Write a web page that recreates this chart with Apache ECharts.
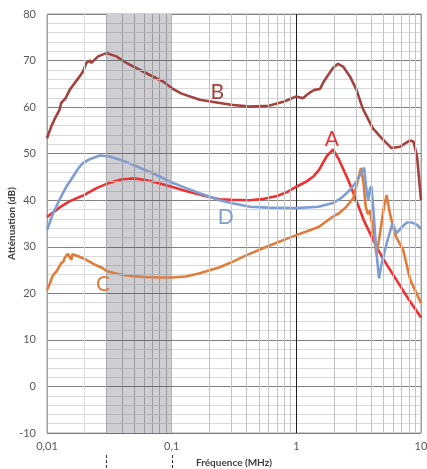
<!DOCTYPE html>
<html>
<head>
<meta charset="utf-8">
<script src="https://cdn.jsdelivr.net/npm/echarts@6/dist/echarts.min.js"></script>
<style>
html,body{margin:0;padding:0;background:#fff;}
#c{width:427px;height:469px;}
</style>
</head>
<body>
<div id="c"></div>
<script>
// ---- data (frequency MHz, attenuation dB) ----
const curveA = [[0.01,36.4],[0.0115,37.6],[0.013,38.7],[0.015,39.7],[0.0175,40.5],[0.0195,41.0],[0.022,41.8],[0.025,42.6],[0.03,43.5],[0.035,44.1],[0.04,44.5],[0.045,44.6],[0.05,44.7],[0.06,44.4],[0.07,44.0],[0.08,43.6],[0.1,42.9],[0.13,42.0],[0.17,41.2],[0.2,40.7],[0.243,40.2],[0.3,40.1],[0.42,40.0],[0.55,40.3],[0.7,40.9],[0.85,41.8],[1.0,42.9],[1.2,44.0],[1.37,45.1],[1.52,46.5],[1.75,49.4],[1.97,50.9],[2.2,48.7],[2.6,44.4],[3.0,40.2],[3.5,35.5],[4.0,32.3],[4.4,30.0],[5.0,27.3],[6.35,22.9],[8.0,18.6],[10,14.8]];
const curveB = [[0.01,53.3],[0.0108,55.8],[0.0115,57.4],[0.0126,59.4],[0.013,60.9],[0.0141,61.9],[0.0152,63.7],[0.0167,65.2],[0.0183,66.6],[0.0195,67.7],[0.0207,69.5],[0.022,70.0],[0.0227,69.5],[0.0257,70.9],[0.03,71.6],[0.036,70.9],[0.0433,69.5],[0.052,68.4],[0.0668,66.9],[0.0852,65.5],[0.1,64.1],[0.12,62.9],[0.168,61.6],[0.243,60.9],[0.3,60.5],[0.424,60.1],[0.6,60.3],[0.8,61.2],[1.0,62.3],[1.13,61.9],[1.21,62.6],[1.28,63.1],[1.4,63.7],[1.55,63.9],[1.66,65.5],[1.8,66.9],[1.97,68.4],[2.16,69.3],[2.37,68.7],[2.69,66.6],[3.04,63.7],[3.3,60.8],[3.45,59.4],[4.1,55.5],[4.85,53.3],[5.8,51.2],[6.8,51.5],[8.1,52.8],[8.7,52.6],[9.3,49.4],[10,40.0]];
const curveC = [[0.01,20.7],[0.0105,22.0],[0.011,23.5],[0.0115,24.3],[0.012,24.8],[0.013,26.5],[0.0135,26.8],[0.014,27.8],[0.0147,28.5],[0.0152,27.8],[0.0157,27.2],[0.016,28.4],[0.0165,28.2],[0.018,27.9],[0.0207,27.2],[0.024,26.2],[0.0281,25.4],[0.03,24.8],[0.035,24.3],[0.04,24.0],[0.049,23.7],[0.06,23.5],[0.08,23.4],[0.1,23.4],[0.13,23.6],[0.168,24.3],[0.243,25.6],[0.31,26.8],[0.4,28.2],[0.576,30.0],[0.8,31.5],[1.0,32.5],[1.3,33.6],[1.52,34.3],[1.97,36.5],[2.2,37.2],[2.5,38.5],[2.86,40.4],[3.1,44.0],[3.3,46.9],[3.45,44.0],[3.6,38.6],[3.75,37.0],[3.9,37.8],[4.1,34.0],[4.4,28.3],[4.7,33.0],[5.0,38.0],[5.3,41.1],[5.6,37.5],[5.95,34.3],[6.3,32.2],[6.5,32.6],[7.2,29.3],[8.2,22.9],[10,17.9]];
const curveD = [[0.01,33.6],[0.0112,37.2],[0.0126,40.1],[0.0143,42.9],[0.0162,45.1],[0.018,47.0],[0.0195,48.0],[0.022,48.8],[0.0265,49.6],[0.0318,49.4],[0.0407,48.5],[0.049,47.6],[0.0627,46.4],[0.08,45.1],[0.1,43.8],[0.131,42.6],[0.168,41.5],[0.243,40.0],[0.3,39.4],[0.424,38.6],[0.6,38.4],[1.0,38.3],[1.5,38.6],[1.97,39.4],[2.3,40.5],[2.69,42.2],[3.0,43.8],[3.3,45.8],[3.5,47.0],[3.62,43.0],[3.77,40.0],[3.9,42.5],[4.0,43.0],[4.15,38.0],[4.35,30.0],[4.6,23.2],[4.8,26.0],[5.3,30.7],[5.9,35.1],[6.35,32.9],[7.0,34.2],[7.7,35.2],[8.5,35.2],[9.3,34.7],[10,33.8]];
const seriesNames = ['A','B','C','D'];
const seriesColors = ['#EE3030','#A3423F','#E07D3A','#7E9ED2'];
const labelPos = [[1.93,53.2],[0.232,63.3],[0.0281,22.0],[0.272,36.4]];
const shadeRange = [0.03, 0.1];
const xTickLabels = {0.01:'0,01', 0.1:'0,1', 1:'1', 10:'10'};
const minorFreqs = [];
[0.01,0.1,1].forEach(d => { for (let k=2;k<=9;k++) minorFreqs.push(+(k*d).toPrecision(3)); });
const minorDb = [];
for (let v=-10; v<80; v+=2) if (v % 10 !== 0) minorDb.push(v);

const chart = echarts.init(document.getElementById('c'), null, {renderer:'canvas'});
const font = 'Lato, "Liberation Sans", sans-serif';
const curves = [curveA, curveB, curveC, curveD];
const inShade = f => f > shadeRange[0] && f < shadeRange[1];

const series = [];
// shaded band
series.push({
  type:'line', data:[], z:1, silent:true,
  markArea:{silent:true, itemStyle:{color:'#cfcfd3', opacity:1},
    data:[[{xAxis:shadeRange[0]},{xAxis:shadeRange[1]}]]}
});
// minor grid lines drawn over the band
series.push({
  type:'line', data:[], z:1, silent:true,
  markLine:{silent:true, symbol:['none','none'], label:{show:false}, animation:false,
    data: minorFreqs.map(f => ({xAxis:f, lineStyle:{color: f===0.02 ? '#dcdcdc' : (inShade(f) ? '#9c9c9f' : '#c4c4c4'), width:1, type:'solid'}}))}
});
series.push({
  type:'line', data:[], z:1, silent:true,
  markLine:{silent:true, symbol:['none','none'], label:{show:false}, animation:false,
    data: minorDb.map(v => [{coord:[shadeRange[0], v], lineStyle:{color:'#b4b4b8', width:1, type:'solid'}}, {coord:[shadeRange[1], v]}])
      .concat([-10,0,10,20,30,40,50,60,70].map(v => [{coord:[shadeRange[0], v], lineStyle:{color:'#707070', width:1, type:'solid'}}, {coord:[shadeRange[1], v]}]))
      .concat([{xAxis:shadeRange[0], lineStyle:{color:'#a8a8ab', width:1, type:'solid'}}])}
});
curves.forEach((c,i) => {
  series.push({
    name: seriesNames[i], type:'line', data:c, z:3,
    showSymbol:false, symbol:'none', smooth:false,
    lineStyle:{color:seriesColors[i], width:2.6},
    itemStyle:{color:seriesColors[i]},
    markPoint:{symbol:'circle', symbolSize:1, itemStyle:{color:'rgba(0,0,0,0)'},
      label:{show:true, position:'inside', formatter:seriesNames[i], color:seriesColors[i], fontSize:21, fontFamily:font},
      data:[{coord:labelPos[i]}]}
  });
});

chart.setOption({
  animation:false,
  backgroundColor:'#fff',
  grid:{left:47, right:6, top:14, bottom:36, show:true, borderColor:'#a0a0a0', borderWidth:1, containLabel:false, outerBoundsMode:'none'},
  xAxis:{
    type:'log', logBase:10, min:0.01, max:10,
    axisLine:{show:false}, axisTick:{show:false},
    axisLabel:{margin:8, fontSize:11, color:'#595959', fontFamily:font,
      formatter: v => { const k = +(+v).toPrecision(6); return xTickLabels[k] !== undefined ? xTickLabels[k] : ''; }},
    splitLine:{show:true, lineStyle:{color:['#a0a0a0','#7f7f7f','#1e1e1e','#a0a0a0'], width:1}},
    name:'Fréquence (MHz)', nameLocation:'middle', nameGap:25, nameMoveOverlap:false,
    nameTextStyle:{fontSize:10, fontWeight:'bold', color:'#404040', fontFamily:font}
  },
  yAxis:{
    type:'value', min:-10, max:80, interval:10,
    axisLine:{show:false}, axisTick:{show:false},
    axisLabel:{margin:11, fontSize:11, color:'#595959', fontFamily:font},
    splitLine:{show:true, lineStyle:{color:'#808080', width:1}},
    minorTick:{show:false, splitNumber:5},
    minorSplitLine:{show:true, lineStyle:{color:'#d9d9d9', width:1}},
    name:'Atténuation (dB)', nameLocation:'middle', nameGap:30, nameRotate:90, nameMoveOverlap:false,
    nameTextStyle:{fontSize:10, fontWeight:'bold', color:'#404040', fontFamily:font}
  },
  series: series
});

// dashed ticks below the axis marking the shaded band
const yBottom = chart.convertToPixel({gridIndex:0}, [1, -10])[1];
const graphics = shadeRange.map(f => {
  const x = Math.round(chart.convertToPixel({gridIndex:0}, [f, -10])[0]) + 0.5;
  return {type:'line', shape:{x1:x, y1:yBottom+22, x2:x, y2:yBottom+36},
    style:{stroke:'#333', lineWidth:1, lineDash:[3,2]}, silent:true};
});
chart.setOption({graphic:graphics});
</script>
</body>
</html>
